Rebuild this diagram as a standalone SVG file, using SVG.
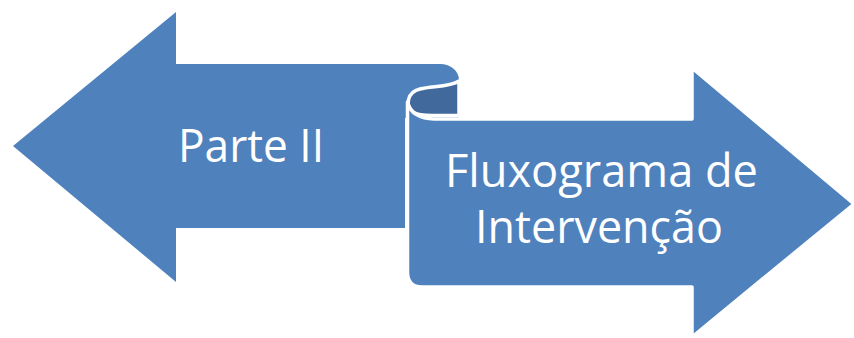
<svg xmlns="http://www.w3.org/2000/svg" width="854" height="338" viewBox="0 0 854 338">
  <style>
    .blue { fill: #4F81BD; }
    .edge { stroke: #FFFFFF; stroke-width: 3.5; stroke-linejoin: round; }
    .dark { fill: #41699C; }
    .label { fill: #FFFFFF; font-family: "Open Sans", "Liberation Sans", sans-serif; font-size: 46px; }
  </style>
  <rect width="854" height="338" fill="#FFFFFF"/>
  <g id="left-arrow">
    <path class="blue" d="M13,146 L176,12 L176,64 L440,64 C451,64 459,71 459,80 L459,118 L405,118 L405,228 L176,228 L176,282 Z"/>
    <text class="label" x="178" y="162" textLength="146" lengthAdjust="spacingAndGlyphs">Parte II</text>
  </g>
  <g id="curl">
    <path class="dark edge" d="M459,81 C450,87 432,86 420,89 C407,92 405,106 413,112 C418,115.5 425,115.5 432,115.5 L459,115.5 Z"/>
  </g>
  <g id="right-arrow">
    <path class="blue edge" d="M407.5,102 L407.5,272 Q407.5,287 422,287 L692,287 L692,337 L854,204 L692,68 L692,119 L434,119 C420,119 410,113 407.5,102 Z"/>
    <text class="label" x="445" y="187" textLength="313" lengthAdjust="spacingAndGlyphs">Fluxograma de</text>
    <text class="label" x="475" y="243" textLength="248" lengthAdjust="spacingAndGlyphs">Intervenção</text>
  </g>
  <g id="connectors"/>
</svg>
